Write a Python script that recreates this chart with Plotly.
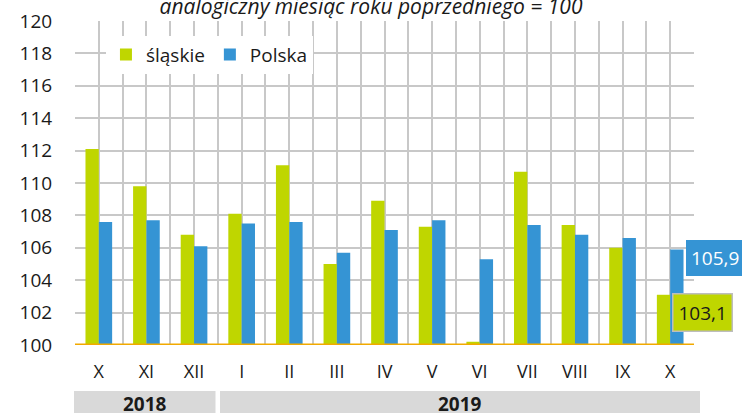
import plotly.graph_objects as go

months = ["X", "XI", "XII", "I", "II", "III", "IV", "V", "VI", "VII", "VIII", "IX", "X"]
slaskie = [112.1, 109.8, 106.8, 108.1, 111.1, 105.0, 108.9, 107.3, 100.2, 110.7, 107.4, 106.0, 103.1]
polska = [107.6, 107.7, 106.1, 107.5, 107.6, 105.7, 107.1, 107.7, 105.3, 107.4, 106.8, 106.6, 105.9]
years = ["2018", "2019"]
title_text = "analogiczny miesiąc roku poprzedniego = 100"

GREEN = "#bfd600"
BLUE = "#3594d4"
FONT = "Open Sans"

xpos = list(range(len(months)))

fig = go.Figure()
fig.add_trace(go.Bar(x=xpos, y=[v - 100 for v in slaskie], base=100, name="śląskie",
                     marker=dict(color=GREEN, line=dict(width=0))))
fig.add_trace(go.Bar(x=xpos, y=[v - 100 for v in polska], base=100, name="Polska",
                     marker=dict(color=BLUE, line=dict(width=0))))

fig.update_layout(
    width=742, height=413,
    margin=dict(l=75, r=48, t=21, b=68, autoexpand=False),
    paper_bgcolor="white", plot_bgcolor="white",
    barmode="group", bargap=0.44, bargroupgap=0,
    font=dict(family=FONT, size=18, color="#1a1a1a"),
    showlegend=True,
    legend=dict(orientation="h", x=0.05, y=0.955, xanchor="left", yanchor="top",
                bgcolor="white", font=dict(size=19), itemwidth=30,
                traceorder="normal"),
    title=dict(text="<i>" + title_text + "</i>", x=0.5, xanchor="center",
               y=1 - 7 / 413, yref="container", yanchor="middle",
               font=dict(size=21, color="#1a1a1a")),
)

fig.update_xaxes(
    range=[-0.5, 12.5], tickmode="array", tickvals=xpos, ticktext=months,
    tickfont=dict(size=18),
    showgrid=True, gridcolor="#c8c8c8", gridwidth=1.5,
    minor=dict(showgrid=True, tick0=-0.5, dtick=1, gridcolor="#c8c8c8", gridwidth=1.5),
    ticks="outside", ticklen=10, tickcolor="rgba(0,0,0,0)",
    showline=False, zeroline=False, fixedrange=True,
)
fig.update_yaxes(
    range=[100, 120], dtick=2, tick0=100,
    tickfont=dict(size=19),
    showgrid=True, gridcolor="#c8c8c8", gridwidth=1.5,
    ticks="outside", ticklen=18, tickcolor="rgba(0,0,0,0)",
    showline=False, zeroline=False, fixedrange=True,
)

# orange baseline at 100
fig.add_shape(type="line", xref="paper", yref="y", x0=0, x1=1, y0=100, y1=100,
              line=dict(color="#f2a900", width=3), layer="above")

plot_w = 619.0
plot_h = 324.0
def px_x(p):
    return (p - 75) / plot_w
def px_y(p):
    return (345 - p) / plot_h

# year bands
bands = [(74, 215.5, years[0]), (220, 700, years[1])]
for x0, x1, lab in bands:
    fig.add_shape(type="rect", xref="paper", yref="paper",
                  x0=px_x(x0), x1=px_x(x1), y0=px_y(391), y1=px_y(415),
                  fillcolor="#d9d9d9", line=dict(width=0), layer="below")
    fig.add_annotation(xref="paper", yref="paper", x=(px_x(x0) + px_x(x1)) / 2, y=px_y(404),
                       text="<b>" + lab + "</b>", showarrow=False,
                       font=dict(size=19, color="#1a1a1a"), xanchor="center", yanchor="middle")

# value labels for last month
fig.add_annotation(xref="paper", yref="paper", x=px_x(686), y=px_y(258),
                   text=f"{polska[-1]:.1f}".replace(".", ","), showarrow=False,
                   xanchor="left", yanchor="middle", bgcolor=BLUE,
                   font=dict(size=19, color="white"), borderpad=5, borderwidth=0)
fig.add_annotation(xref="paper", yref="paper", x=px_x(672), y=px_y(312.5),
                   text=f"{slaskie[-1]:.1f}".replace(".", ","), showarrow=False,
                   xanchor="left", yanchor="middle", bgcolor=GREEN,
                   font=dict(size=19, color="#1a1a1a"), borderpad=5,
                   bordercolor="#bdbdbd", borderwidth=1.5)

fig.write_html("out.html", config={"displayModeBar": False},
               post_script="document.body.style.margin='0';document.body.style.overflow='hidden';")
